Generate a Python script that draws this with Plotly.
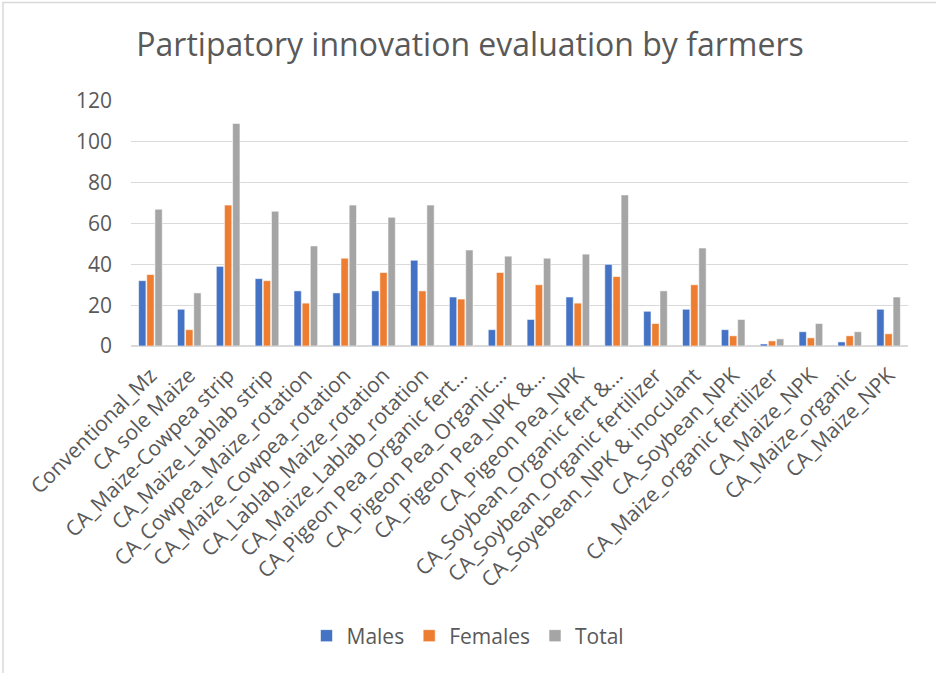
import plotly.graph_objects as go

# Innovations evaluated by farmers (as labelled on the chart axis)
categories = [
    "Conventional_Mz",
    "CA sole Maize",
    "CA_Maize-Cowpea strip",
    "CA_Maize_Lablab strip",
    "CA_Cowpea_Maize_rotation",
    "CA_Maize_Cowpea_rotation",
    "CA_Lablab_Maize_rotation",
    "CA_Maize_Lablab_rotation",
    "CA_Pigeon Pea_Organic fert…",
    "CA_Pigeon Pea_Organic…",
    "CA_Pigeon Pea_NPK &…",
    "CA_Pigeon Pea_NPK",
    "CA_Soybean_Organic fert &…",
    "CA_Soybean_Organic fertilizer",
    "CA_Soyebean_NPK & inoculant",
    "CA_Soybean_NPK",
    "CA_Maize_organic fertilizer",
    "CA_Maize_NPK",
    "CA_Maize_organic",
    "CA_Maize_NPK",
]

males = [32, 18, 39, 33, 27, 26, 27, 42, 24, 8, 13, 24, 40, 17, 18, 8, 1, 7, 2, 18]
females = [35, 8, 69, 32, 21, 43, 36, 27, 23, 36, 30, 21, 34, 11, 30, 5, 2.5, 4, 5, 6]
total = [67, 26, 109, 66, 49, 69, 63, 69, 47, 44, 43, 45, 74, 27, 48, 13, 3.5, 11, 7, 24]

y_ticks = [0, 20, 40, 60, 80, 100, 120]

positions = list(range(len(categories)))

series = [
    ("Males", males, "#4472C4"),
    ("Females", females, "#ED7D31"),
    ("Total", total, "#A5A5A5"),
]

TEXT = "#595959"
FONT = "Open Sans"
LABEL_SIZE = 21

fig = go.Figure()
for name, values, color in series:
    fig.add_trace(go.Bar(
        name=name,
        x=positions,
        y=values,
        marker=dict(color=color, line=dict(color="rgba(255,255,255,0.7)", width=0.8)),
    ))

W, H = 936, 673
L, R, T, B = 131, 28, 101, 327
pw, ph = W - L - R, H - T - B


def px_x(x):
    return (x - L) / pw


def px_y(y):
    return (H - B - y) / ph


fig.update_layout(
    width=W,
    height=H,
    margin=dict(l=L, r=R, t=T, b=B, autoexpand=False),
    paper_bgcolor="white",
    plot_bgcolor="white",
    barmode="group",
    bargap=0.37,
    bargroupgap=0.1,
    font=dict(family=FONT, color=TEXT, size=LABEL_SIZE),
    title=dict(
        text="Partipatory innovation evaluation by farmers",
        font=dict(family=FONT, size=32, color=TEXT),
        x=470 / W, xref="container", xanchor="center",
        y=1 - 45 / H, yref="container", yanchor="middle",
    ),
    xaxis=dict(
        tickmode="array",
        tickvals=positions,
        ticktext=categories,
        tickangle=-45,
        range=[-0.5, len(categories) - 0.5],
        showgrid=False,
        zeroline=False,
        showline=False,
        ticks="",
        ticklabelstandoff=12,
        automargin=False,
        tickfont=dict(family=FONT, size=LABEL_SIZE, color=TEXT),
    ),
    yaxis=dict(
        range=[0, 120],
        tickmode="array",
        tickvals=y_ticks,
        showgrid=True,
        gridcolor="#D9D9D9",
        gridwidth=1.3,
        zeroline=True,
        zerolinecolor="#D9D9D9",
        zerolinewidth=1.6,
        showline=False,
        ticks="",
        ticklabelstandoff=18,
        automargin=False,
        tickfont=dict(family=FONT, size=LABEL_SIZE, color=TEXT),
    ),
    legend=dict(
        orientation="h",
        x=px_x(W / 2), xanchor="center",
        y=px_y(636), yanchor="middle",
        font=dict(family=FONT, size=LABEL_SIZE, color=TEXT),
        itemwidth=30,
        bgcolor="rgba(0,0,0,0)",
    ),
    showlegend=True,
)

# Chart frame (left and top edges run into the page)
fig.add_shape(
    type="rect", xref="paper", yref="paper",
    x0=px_x(3), x1=px_x(W + 20), y0=px_y(H + 20), y1=px_y(2.5),
    line=dict(color="#D9D9D9", width=1.5), fillcolor="rgba(0,0,0,0)", layer="below",
)

fig.write_html("out.html")
